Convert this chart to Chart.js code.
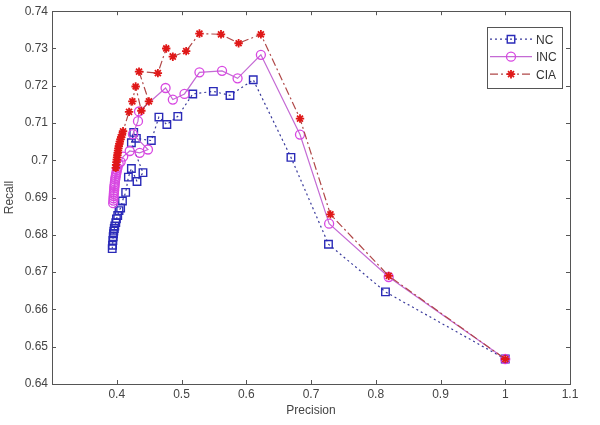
<!DOCTYPE html>
<html>
<head>
<meta charset="utf-8">
<script src="https://cdn.jsdelivr.net/npm/chart.js@4/dist/chart.umd.min.js"></script>
<style>
  body { margin: 0; background: #fff; }
  canvas { display: block; }
</style>
</head>
<body>
<canvas id="prChart" width="600" height="425"></canvas>
<script>
// values
const seriesNames = ["NC", "INC", "CIA"];

const ncX = [0.3930, 0.3935, 0.3940, 0.3945, 0.3950, 0.3955, 0.3962, 0.3970, 0.3985, 0.3995, 0.4015, 0.4035, 0.4060, 0.4088, 0.4138, 0.4180, 0.4226, 0.4313, 0.4405, 0.4226, 0.4262, 0.4303, 0.4534, 0.4651, 0.4774, 0.4943, 0.5174, 0.5492, 0.5749, 0.6108, 0.6690, 0.7270, 0.8150, 1.0000];
const ncY = [0.6763, 0.6772, 0.6785, 0.6795, 0.6803, 0.6810, 0.6817, 0.6824, 0.6833, 0.6843, 0.6852, 0.6865, 0.6872, 0.6891, 0.6914, 0.6955, 0.6978, 0.6943, 0.6967, 0.7047, 0.7075, 0.7059, 0.7053, 0.7116, 0.7096, 0.7118, 0.7178, 0.7185, 0.7174, 0.7216, 0.7008, 0.6775, 0.6647, 0.6467];

const incX = [0.3945, 0.3948, 0.3950, 0.3952, 0.3955, 0.3957, 0.3960, 0.3962, 0.3965, 0.3968, 0.3972, 0.3976, 0.3980, 0.3985, 0.3990, 0.3996, 0.4003, 0.4012, 0.4030, 0.4060, 0.4100, 0.4200, 0.4354, 0.4482, 0.4250, 0.4328, 0.4344, 0.4754, 0.4866, 0.5046, 0.5277, 0.5626, 0.5866, 0.6226, 0.6830, 0.7280, 0.8200, 1.0000];
const incY = [0.6885, 0.6892, 0.6898, 0.6904, 0.6910, 0.6915, 0.6920, 0.6926, 0.6931, 0.6936, 0.6942, 0.6948, 0.6953, 0.6958, 0.6963, 0.6968, 0.6974, 0.6980, 0.6990, 0.6996, 0.7010, 0.7025, 0.7020, 0.7029, 0.7070, 0.7105, 0.7131, 0.7194, 0.7163, 0.7178, 0.7236, 0.7240, 0.7220, 0.7283, 0.7069, 0.6830, 0.6687, 0.6467];

const ciaX = [0.3985, 0.3990, 0.3995, 0.4000, 0.4005, 0.4010, 0.4015, 0.4020, 0.4025, 0.4032, 0.4040, 0.4048, 0.4058, 0.4068, 0.4080, 0.4097, 0.4190, 0.4241, 0.4292, 0.4380, 0.4497, 0.4344, 0.4635, 0.4764, 0.4866, 0.5072, 0.5277, 0.5610, 0.5882, 0.6226, 0.6830, 0.7300, 0.8200, 1.0000];
const ciaY = [0.6980, 0.6988, 0.6995, 0.7002, 0.7008, 0.7014, 0.7020, 0.7026, 0.7032, 0.7038, 0.7044, 0.7050, 0.7056, 0.7062, 0.7068, 0.7078, 0.7130, 0.7158, 0.7198, 0.7133, 0.7158, 0.7238, 0.7234, 0.7300, 0.7278, 0.7293, 0.7340, 0.7338, 0.7314, 0.7338, 0.7112, 0.6855, 0.6690, 0.6467];

const xTicks = [0.4, 0.5, 0.6, 0.7, 0.8, 0.9, 1.0, 1.1];
const yTicks = [0.64, 0.65, 0.66, 0.67, 0.68, 0.69, 0.70, 0.71, 0.72, 0.73, 0.74];

const FONT = "'Liberation Sans', Arial, sans-serif";
const AXIS = "#555";
const TEXT = "#444";

function pairs(xs, ys) {
    return xs.map((x, i) => ({ x: x, y: ys[i] }));
}
function fmt(v) {
    return String(Number(v.toFixed(2)));
}

// matlab style box with inward ticks on all four sides
const boxPlugin = {
    id: "boxPlugin",
    afterDraw(chart) {
        const c = chart.ctx, a = chart.chartArea;
        const xs = chart.scales.x, ys = chart.scales.y;
        const len = 4;
        c.save();
        c.strokeStyle = AXIS;
        c.lineWidth = 1;
        c.strokeRect(Math.round(a.left) + 0.5, Math.round(a.top) + 0.5, Math.round(a.right - a.left), Math.round(a.bottom - a.top));
        c.beginPath();
        xTicks.forEach(v => {
            const px = Math.round(xs.getPixelForValue(v)) + 0.5;
            c.moveTo(px, a.bottom); c.lineTo(px, a.bottom - len);
            c.moveTo(px, a.top); c.lineTo(px, a.top + len);
        });
        yTicks.forEach(v => {
            const py = Math.round(ys.getPixelForValue(v)) + 0.5;
            c.moveTo(a.left, py); c.lineTo(a.left + len, py);
            c.moveTo(a.right, py); c.lineTo(a.right - len, py);
        });
        c.stroke();
        c.restore();
    }
};

// legend drawn like the matlab one: line sample + marker + name
const legendPlugin = {
    id: "legendPlugin",
    afterDraw(chart) {
        const c = chart.ctx, a = chart.chartArea;
        const right = a.right - 8, top = a.top + 16;
        const w = 75, h = 61;
        const left = right - w;
        c.save();
        c.fillStyle = "#fff";
        c.fillRect(left, top, w, h);
        c.strokeStyle = AXIS;
        c.lineWidth = 1;
        c.strokeRect(Math.round(left) + 0.5, Math.round(top) + 0.5, w, h);
        seriesNames.forEach((name, i) => {
            const ds = chart.data.datasets.find(d => d.label === name);
            const y = top + 12 + i * 17.5;
            c.beginPath();
            c.setLineDash(ds.borderDash || []);
            c.strokeStyle = ds.borderColor;
            c.lineWidth = ds.borderWidth;
            c.moveTo(left + 3, y);
            c.lineTo(left + 45, y);
            c.stroke();
            c.setLineDash([]);
            c.strokeStyle = ds.pointBorderColor;
            c.fillStyle = "rgba(0,0,0,0)";
            c.lineWidth = ds.pointBorderWidth;
            Chart.helpers.drawPoint(c, { pointStyle: ds.pointStyle, radius: ds.pointRadius, rotation: 0, borderWidth: ds.pointBorderWidth }, left + 24, y);
            c.fillStyle = "#333";
            c.font = "12px " + FONT;
            c.textBaseline = "middle";
            c.fillText(ds.label, left + 49, y + 1);
        });
        c.restore();
    }
};

const ctx = document.getElementById("prChart").getContext("2d");
new Chart(ctx, {
    type: "scatter",
    data: {
        datasets: [
            {
                label: seriesNames[0],
                data: pairs(ncX, ncY),
                showLine: true,
                borderColor: "#3a3a9c",
                borderWidth: 1.2,
                borderDash: [2, 3],
                pointStyle: "rect",
                pointRadius: 5.3,
                pointBorderColor: "#2a2ab8",
                pointBorderWidth: 1.4,
                pointBackgroundColor: "rgba(0,0,0,0)",
                order: 2,
            },
            {
                label: seriesNames[1],
                data: pairs(incX, incY),
                showLine: true,
                borderColor: "#c46ad4",
                borderWidth: 1.2,
                pointStyle: "circle",
                pointRadius: 4.5,
                pointBorderColor: "#d848e2",
                pointBorderWidth: 1.3,
                pointBackgroundColor: "rgba(0,0,0,0)",
                order: 1,
            },
            {
                label: seriesNames[2],
                data: pairs(ciaX, ciaY),
                showLine: true,
                borderColor: "#b04848",
                borderWidth: 1.2,
                borderDash: [8, 3, 2, 3],
                pointStyle: "star",
                pointRadius: 4.2,
                pointBorderColor: "#e01818",
                pointBorderWidth: 1.8,
                pointBackgroundColor: "rgba(0,0,0,0)",
                order: 0,
            },
        ],
    },
    options: {
        responsive: false,
        animation: false,
        devicePixelRatio: 1,
        layout: { padding: { left: 0, right: 30, top: 9, bottom: 0 } },
        plugins: {
            legend: { display: false },
            tooltip: { enabled: false },
        },
        elements: { line: { tension: 0 } },
        scales: {
            x: {
                type: "linear",
                min: 0.3,
                max: 1.1,
                afterBuildTicks: s => { s.ticks = xTicks.map(v => ({ value: v })); },
                afterFit: s => { s.height = 41; },
                grid: { display: false, drawTicks: false },
                border: { display: false },
                ticks: {
                    padding: 3,
                    color: TEXT,
                    font: { family: FONT, size: 12 },
                    callback: v => fmt(v),
                },
                title: {
                    display: true,
                    text: "Precision",
                    color: TEXT,
                    font: { family: FONT, size: 12 },
                    padding: { top: 0, bottom: 7 },
                },
            },
            y: {
                type: "linear",
                min: 0.64,
                max: 0.74,
                afterBuildTicks: s => { s.ticks = yTicks.map(v => ({ value: v })); },
                afterFit: s => { s.width = 52; },
                grid: { display: false, drawTicks: false },
                border: { display: false },
                ticks: {
                    padding: 4,
                    color: TEXT,
                    font: { family: FONT, size: 12 },
                    callback: v => fmt(v),
                },
                title: {
                    display: true,
                    text: "Recall",
                    color: TEXT,
                    font: { family: FONT, size: 12 },
                    padding: { top: 2, bottom: 0 },
                },
            },
        },
    },
    plugins: [boxPlugin, legendPlugin],
});
</script>
</body>
</html>
